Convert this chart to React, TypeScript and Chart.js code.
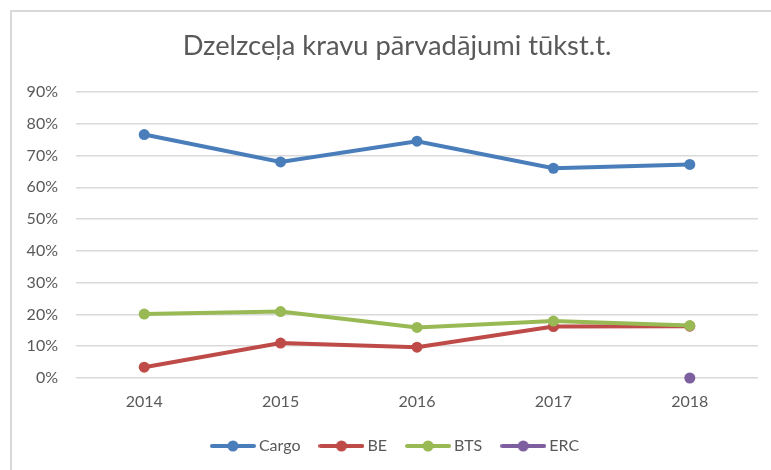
import React, { useEffect, useRef } from "react";
import { Chart, registerables } from "chart.js";

Chart.register(...registerables);

const TITLE = "Dzelzceļa kravu pārvadājumi tūkst.t.";
const years = ["2014", "2015", "2016", "2017", "2018"];
const seriesNames = ["Cargo", "BE", "BTS", "ERC"];
const cargo = [76.6, 68.0, 74.5, 66.0, 67.2];
const be = [3.4, 11.0, 9.7, 16.2, 16.3];
const bts = [20.1, 20.9, 15.9, 17.9, 16.5];
const erc: (number | null)[] = [null, null, null, null, 0];
const seriesColors = ["#4A7EBB", "#BE4B48", "#98B954", "#7D5FA0"];
const yTickMax = 90;
const yTickStep = 10;

function makeMarker(color: string): HTMLCanvasElement {
  const c = document.createElement("canvas");
  c.width = 46;
  c.height = 14;
  const ctx = c.getContext("2d")!;
  ctx.strokeStyle = color;
  ctx.lineWidth = 4;
  ctx.lineCap = "round";
  ctx.beginPath();
  ctx.moveTo(2, 7);
  ctx.lineTo(44, 7);
  ctx.stroke();
  ctx.fillStyle = color;
  ctx.beginPath();
  ctx.arc(23, 7, 5.5, 0, Math.PI * 2);
  ctx.fill();
  return c;
}

const shiftPlugin = {
  id: "shiftBlocks",
  afterLayout(chart: any) {
    const dx = 18;
    for (const b of [chart.titleBlock, chart.legend]) {
      if (b) {
        b.left += dx;
        b.right += dx;
      }
    }
  },
};

export default function App() {
  const ref = useRef<HTMLCanvasElement | null>(null);
  useEffect(() => {
    if (!ref.current) return;
    const values = [cargo, be, bts, erc];
    const markers = seriesColors.map(makeMarker);
    const chart = new Chart(ref.current, {
      type: "line",
      plugins: [shiftPlugin],
      data: {
        labels: years,
        datasets: seriesNames.map((name, i) => ({
          label: name,
          data: values[i],
          borderColor: seriesColors[i],
          backgroundColor: seriesColors[i],
          pointBackgroundColor: seriesColors[i],
          pointBorderColor: seriesColors[i],
          borderWidth: 4,
          pointRadius: 5.5,
          pointHoverRadius: 5.5,
          pointBorderWidth: 0,
          tension: 0,
          spanGaps: false,
          clip: false as any,
          order: 4 - i,
        })),
      },
      options: {
        responsive: false,
        animation: false,
        layout: { padding: { top: 0, left: 0, right: 13, bottom: 16 } },
        plugins: {
          tooltip: { enabled: false },
          title: {
            display: true,
            text: TITLE,
            color: "#595959",
            font: { family: "Lato", size: 27.3, weight: "normal" },
            padding: { top: 29.6, bottom: 29.6 },
          },
          legend: {
            position: "bottom",
            labels: {
              usePointStyle: true,
              pointStyleWidth: 36,
              boxHeight: 14,
              padding: 23,
              color: "#595959",
              font: { family: "Lato", size: 16 },
              sort: (a: any, b: any) => a.datasetIndex - b.datasetIndex,
              generateLabels: (ch: any) => {
                const items = Chart.defaults.plugins.legend.labels.generateLabels(ch);
                return items.map((it: any) => ({
                  ...it,
                  pointStyle: markers[it.datasetIndex],
                }));
              },
            },
          },
        },
        scales: {
          x: {
            offset: true,
            grid: { display: false, drawTicks: false },
            border: { display: false },
            ticks: {
              color: "#595959",
              font: { family: "Lato", size: 16 },
              padding: 14,
            },
            afterFit: (s: any) => {
              s.height = 37;
            },
          },
          y: {
            min: 0,
            max: yTickMax,
            grid: { color: "#d9d9d9", lineWidth: 1.5, drawTicks: false },
            border: { display: false },
            ticks: {
              stepSize: yTickStep,
              color: "#595959",
              font: { family: "Lato", size: 16 },
              padding: 18,
              callback: (v: any) => v + "%",
            },
            afterFit: (s: any) => {
              s.width = 76;
            },
          },
        },
      },
    });
    return () => chart.destroy();
  }, []);
  return (
    <div style={{ position: "absolute", left: 0, top: 0, width: 771, height: 470, overflow: "hidden", background: "#fff" }}>
      <canvas ref={ref} width={771} height={480} style={{ position: "absolute", left: 0, top: 0, width: 771, height: 480 }} />
      <div style={{ position: "absolute", left: 10, top: 10, width: 800, height: 500, border: "2px solid #d9d9d9", pointerEvents: "none" }} />
    </div>
  );
}
